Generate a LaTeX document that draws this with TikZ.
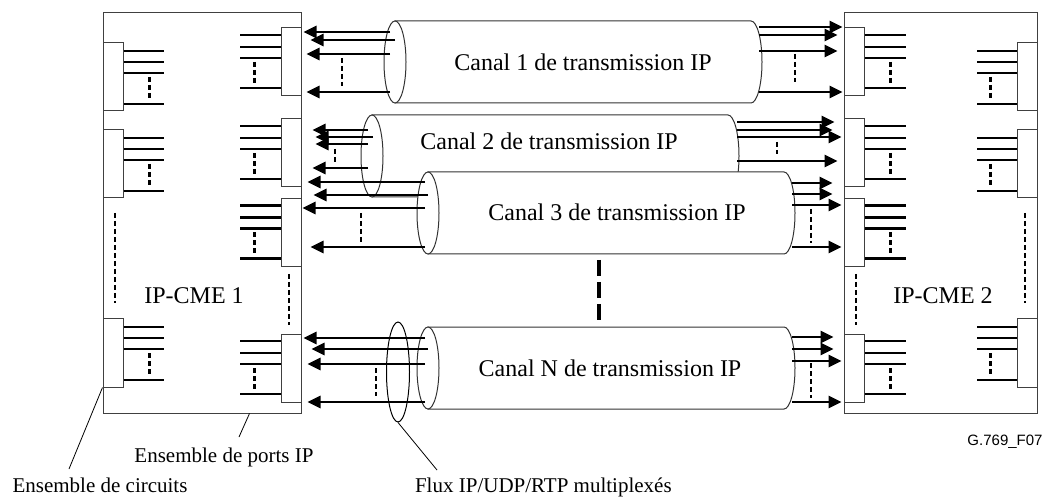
\documentclass[tikz,border=0pt]{standalone}
\usepackage{fontspec}
\setmainfont{Liberation Serif}
\newfontfamily\figsans{Liberation Sans}
\usetikzlibrary{arrows.meta,shapes.geometric,calc}

\begin{document}
\begin{tikzpicture}[x=0.5pt, y=-0.5pt, font=\fontsize{12}{14}\selectfont,
    cme/.style = {draw=black!75, line width=0.5pt, minimum height=200pt, inner sep=0pt},
    port/.style = {draw=black!75, line width=0.5pt, fill=white, minimum width=10pt, minimum height=34pt, inner sep=0pt},
    stub/.style = {line width=1.2pt},
    tick/.style = {line width=1.1pt, dash pattern=on 2.5pt off 1.5pt},
    sep/.style = {line width=0.8pt, dash pattern=on 2.5pt off 1.5pt},
    cylbody/.style = {draw=black!80, line width=0.5pt, fill=white},
    cylend/.style = {ellipse, draw=black!80, line width=0.5pt, fill=white, minimum width=11pt, minimum height=41pt, inner sep=0pt},
    flow/.style = {line width=1.3pt, -{Triangle[length=6.5pt, width=6pt]}},
    lead/.style = {line width=0.4pt},
    small/.style = {font=\fontsize{10.5}{12}\selectfont}]
    \useasboundingbox (0,0) rectangle (1044,497);

    \node[cme, minimum width=99pt] (cme1) at (202,213) {};
    \node[cme, minimum width=96.5pt] (cme2) at (940.5,213) {};
    \node (n1) at (194,296) {IP-CME 1};
    \node (n2) at (943,296) {IP-CME 2};

    \node[port] (cl1) at (113,77) {};
    \node[port] (cl2) at (113,164) {};
    \node[port] (cl3) at (113,353) {};
    \node[port] (cr1) at (1027,77) {};
    \node[port] (cr2) at (1027,164) {};
    \node[port] (cr3) at (1027,353) {};

    \node[port] (pl1) at (291,62) {};
    \node[port] (pl2) at (291,153) {};
    \node[port] (pl3) at (291,232.5) {};
    \node[port] (pl4) at (291,368) {};
    \node[port] (pr1) at (854,62) {};
    \node[port] (pr2) at (854,153) {};
    \node[port] (pr3) at (854,232.5) {};
    \node[port] (pr4) at (854,368) {};

    \foreach \b in {cl1,cl2,cl3} {
      \foreach \dy in {-26,-15,-4,27}
        \draw[stub] ($(\b.east)+(0,\dy)$) -- ++(40,0);
      \draw[tick] ($(\b.east)+(26,0)$) -- ++(0,21);
    }
    \foreach \b in {cr1,cr2,cr3} {
      \foreach \dy in {-26,-15,-4,27}
        \draw[stub] ($(\b.west)+(0,\dy)$) -- ++(-40,0);
      \draw[tick] ($(\b.west)+(-26,0)$) -- ++(0,21);
    }
    \foreach \b in {pl1,pl2,pl3,pl4} {
      \foreach \dy in {-27,-15,-4,26}
        \draw[stub] ($(\b.west)+(0,\dy)$) -- ++(-41,0);
      \draw[tick] ($(\b.west)+(-26,0)$) -- ++(0,21);
    }
    \foreach \b in {pr1,pr2,pr3,pr4} {
      \foreach \dy in {-27,-15,-4,26}
        \draw[stub] ($(\b.east)+(0,\dy)$) -- ++(41,0);
      \draw[tick] ($(\b.east)+(26,0)$) -- ++(0,21);
    }

    \draw[sep] (115,213) -- (115,303);
    \draw[sep] (289,274) -- (289,325);
    \draw[sep] (856,274) -- (856,325);
    \draw[sep] (1025,213) -- (1025,303);

    \coordinate (c1) at (395,62);
    \coordinate (r1) at (751,62);
    \draw[cylbody] ($(c1)+(0,-41)$) -- ($(r1)+(0,-41)$) arc[start angle=-90, end angle=90, x radius=11, y radius=41] -- ($(c1)+(0,41)$) -- cycle;
    \node[cylend] (e1) at (c1) {};
    \node (t1) at (583,62) {Canal 1 de transmission IP};

    \coordinate (c2) at (372,156);
    \coordinate (r2) at (728,156);
    \draw[cylbody] ($(c2)+(0,-41)$) -- ($(r2)+(0,-41)$) arc[start angle=-90, end angle=90, x radius=11, y radius=41] -- ($(c2)+(0,41)$) -- cycle;
    \node[cylend] (e2) at (c2) {};
    \node (t2) at (549,141) {Canal 2 de transmission IP};

    \coordinate (c3) at (428,213);
    \coordinate (r3) at (784,213);
    \draw[cylbody] ($(c3)+(0,-41)$) -- ($(r3)+(0,-41)$) arc[start angle=-90, end angle=90, x radius=11, y radius=41] -- ($(c3)+(0,41)$) -- cycle;
    \node[cylend] (e3) at (c3) {};
    \node (t3) at (617,212) {Canal 3 de transmission IP};

    \coordinate (cN) at (428,368);
    \coordinate (rN) at (784,368);
    \draw[cylbody] ($(cN)+(0,-41)$) -- ($(rN)+(0,-41)$) arc[start angle=-90, end angle=90, x radius=11, y radius=41] -- ($(cN)+(0,41)$) -- cycle;
    \node[cylend] (eN) at (cN) {};
    \node (tN) at (610,368) {Canal N de transmission IP};

    \draw[line width=2pt, dash pattern=on 8pt off 3pt] (599,260) -- (599,320);

    \foreach \dx/\dy/\sh in {-5/-30/1pt, 0/-22/4.5pt, -5/-8/2.5pt, -5/30/2.5pt} {
      \coordinate (a) at ($(e1)+(\dx,\dy)$);
      \draw[flow, shorten >=\sh] (a) -- (a -| pl1.east);
    }
    \foreach \dy/\sh in {-35/0.5pt, -27/3pt, -11/3pt, 30/0.5pt} {
      \coordinate (a) at ($(r1)+(8,\dy)$);
      \draw[flow, shorten >=\sh] (a) -- (a -| pr1.west);
    }
    \foreach \dx/\dy/\sh in {-4/-26/5.5pt, 1/-19/7pt, -4/-12/7pt, -4/12/5.5pt} {
      \coordinate (a) at ($(e2)+(\dx,\dy)$);
      \draw[flow, shorten >=\sh] (a) -- (a -| pl2.east);
    }
    \foreach \dy/\sh in {-34/4.5pt, -26/5.5pt, -19/1pt, 5/3pt} {
      \coordinate (a) at ($(r2)+(9,\dy)$);
      \draw[flow, shorten >=\sh] (a) -- (a -| pr2.west);
    }
    \foreach \dx/\dy/\sh in {-3/-31/3pt, 0/-18/6pt, -3/-5/0.5pt, -3/34/4.5pt} {
      \coordinate (a) at ($(e3)+(\dx,\dy)$);
      \draw[flow, shorten >=\sh] (a) -- (a -| pl3.east);
    }
    \foreach \dy/\sh in {-30/5.5pt, -19/5.5pt, -8/1pt, 34/1pt} {
      \coordinate (a) at ($(r3)+(8,\dy)$);
      \draw[flow, shorten >=\sh] (a) -- (a -| pr3.west);
    }
    \foreach \dx/\dy/\sh in {-3/-30/1pt, 0/-19/5pt, -3/-4/3pt, -3/34/3pt} {
      \coordinate (a) at ($(eN)+(\dx,\dy)$);
      \draw[flow, shorten >=\sh] (a) -- (a -| pl4.east);
    }
    \foreach \dy/\sh in {-31/5pt, -19/5pt, -7/1pt, 34/1pt} {
      \coordinate (a) at ($(rN)+(8,\dy)$);
      \draw[flow, shorten >=\sh] (a) -- (a -| pr4.west);
    }

    \draw[tick] (342,58) -- (342,86);
    \draw[tick] (795,54) -- (795,82);
    \draw[tick] (335,149) -- (335,163);
    \draw[tick] (777,142) -- (777,154);
    \draw[tick] (361,213) -- (361,242);
    \draw[tick] (811,209) -- (811,243);
    \draw[tick] (376,368) -- (376,396);
    \draw[tick] (811,363) -- (811,398);

    \node[ellipse, draw, line width=0.5pt, minimum width=11.5pt, minimum height=50pt, inner sep=0pt] (fx) at (398,372) {};

    \node[small] (lp) at (224,457) {Ensemble de ports IP};
    \node[small] (lc) at (100,485) {Ensemble de circuits};
    \node[small, anchor=west] (fl) at (408,487) {Flux IP/UDP/RTP multiplexés};
    \node[font=\figsans\fontsize{7.5}{9}\selectfont] (fig) at (1005,442) {G.769\_F07};

    \coordinate (lpx) at (239,437);
    \coordinate (lcx) at (69,469);
    \coordinate (flx) at (437,470);
    \draw[lead] ($(cme1.south west)+(147,0)$) -- (lpx);
    \draw[lead] (cl3.south west) -- (lcx);
    \draw[lead] (fx.south) -- (flx);
\end{tikzpicture}
\end{document}
